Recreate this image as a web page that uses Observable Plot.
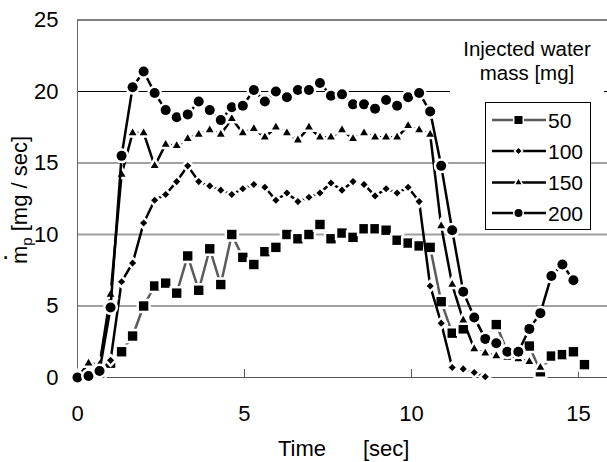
<!DOCTYPE html>
<html><head><meta charset="utf-8">
<script src="https://cdn.jsdelivr.net/npm/d3@7"></script>
<script src="https://cdn.jsdelivr.net/npm/@observablehq/plot@0.6"></script>
<style>body{margin:0;background:#fff} #chart{width:607px;height:462px}</style>
</head><body><div id="chart"></div>
<script>
// Time axis (sec), one sample every 0.33 s
const time = [0,0.33,0.66,0.99,1.32,1.65,1.98,2.31,2.64,2.97,3.3,3.63,3.96,4.29,4.62,4.95,5.28,5.61,5.94,6.27,6.6,6.93,7.26,7.59,7.92,8.25,8.58,8.91,9.24,9.57,9.9,10.23,10.56,10.89,11.22,11.55,11.88,12.21,12.54,12.87,13.2,13.53,13.86,14.19,14.52,14.85,15.18];
// Particle mass flow rate [mg/sec] per injected water mass
const mass50 = [0,0.1,0.3,1.0,1.8,2.9,5.0,6.4,6.6,5.9,8.5,6.1,9.0,6.5,10.0,8.4,7.9,8.8,9.1,10.0,9.7,10.0,10.7,9.7,10.1,9.8,10.4,10.4,10.3,9.6,9.4,9.2,9.1,5.3,3.1,3.4,4.2,2.7,3.7,1.8,1.8,2.2,0.4,1.5,1.6,1.8,0.9];
const mass100 = [0,0.1,0.3,1.2,6.7,8.0,10.8,12.4,12.8,13.7,14.8,13.7,13.4,13.1,12.8,13.2,13.5,13.3,12.4,12.9,12.3,12.6,12.9,13.6,13.1,13.7,13.5,12.7,13.2,12.9,13.3,12.3,6.4,3.8,0.7,0.6,0.35,0.05];
const mass150 = [0,1.0,0.9,5.8,14.2,17.1,17.1,14.8,16.3,16.2,16.7,17.0,17.3,17.0,18.1,17.1,17.4,16.8,17.5,17.1,16.6,17.5,16.8,16.8,17.3,16.7,17.1,16.8,16.8,16.8,17.6,17.3,17.0,10.6,6.5,4.0,2.0,1.7,1.5,1.4,1.3,1.1,0.7];
const mass200 = [0,0.1,0.45,4.9,15.5,20.3,21.4,19.9,18.7,18.2,18.4,19.3,18.7,18.0,18.9,19.0,20.1,19.3,20.0,19.6,20.1,20.1,20.6,19.7,19.8,19.1,19.1,18.8,19.4,19.0,19.6,19.9,18.6,14.8,10.3,6.0,4.2,2.7,2.4,1.8,1.8,3.4,4.5,7.1,7.9,6.8];

const seriesNames = ["50","100","150","200"];
const seriesValues = [mass50, mass100, mass150, mass200];
const seriesSymbols = ["square","diamond2","triangle","circle"];
const seriesR = [5.3, 3.2, 2.9, 5];
const seriesColors = ["#5a5a5a","#000","#000","#000"];
const yTicks = [0,5,10,15,20,25];
const xTicks = [0,5,10,15];
const gridGray = [5,10,15];
const gridBlack = [20,25];
const legendTitle = ["Injected water","mass [mg]"];

const rows = seriesValues.map((arr,k)=>arr.map((v,i)=>({t:time[i], v, s:seriesNames[k]})));

const marks = [
  Plot.ruleY(gridGray, {stroke:"#a0a0a0", strokeWidth:2}),
  Plot.ruleY(gridBlack, {stroke:"#000", strokeWidth:1}),
  Plot.ruleX([0], {stroke:"#666", strokeWidth:1}),
  Plot.ruleY([0], {stroke:"#555", strokeWidth:1}),
  Plot.ruleX(xTicks.slice(1), {y1:0, y2:0.56, stroke:"#555", strokeWidth:1}),
  Plot.axisY({ticks:yTicks, tickSize:0, tickPadding:19, label:null}),
  Plot.axisX({ticks:xTicks, tickSize:0, tickPadding:28, label:null})
];
rows.forEach((d,k)=>{
  marks.push(Plot.line(d, {x:"t", y:"v", stroke:seriesColors[k], strokeWidth:2.5}));
  marks.push(Plot.dot(d, {x:"t", y:"v", symbol:seriesSymbols[k], r:seriesR[k], fill:"#000", stroke:"#fff", strokeWidth:5, paintOrder:"stroke"}));
});

const svgNode = Plot.plot({
  width:607, height:462,
  marginLeft:77, marginRight:0, marginTop:19.5, marginBottom:85,
  x:{domain:[0,15.87]},
  y:{domain:[0,25]},
  style:{fontFamily:"'Liberation Sans', Arial, sans-serif", fontSize:"22px", background:"#fff", color:"#000"},
  marks
});
document.getElementById("chart").appendChild(svgNode);

const svg = d3.select(svgNode);
const ff = "'Liberation Sans', Arial, sans-serif";

// y label
const yl = svg.append("text").attr("transform","translate(27,200) rotate(-90)")
  .attr("text-anchor","middle").attr("font-size",22).attr("font-family",ff).attr("fill","#000");
yl.append("tspan").text("m");
yl.append("tspan").attr("dy",5).attr("font-size",15).text("p");
yl.append("tspan").attr("dy",-5).text(" [mg / sec]");
svg.append("text").attr("x",5.5).attr("y",259)
  .attr("text-anchor","middle").attr("font-size",26).attr("font-family",ff).text(".");

// x label
const xl = svg.append("text").attr("y",456).attr("font-size",22).attr("font-family",ff)
  .attr("fill","#000").attr("text-anchor","start");
xl.append("tspan").attr("x",278).text("Time");
xl.append("tspan").attr("x",363).text("[sec]");

// legend title
svg.append("rect").attr("x",450).attr("y",84).attr("width",154).attr("height",14).attr("fill","#fff");
legendTitle.forEach((s,i)=>svg.append("text").attr("x",527).attr("y",[56,80][i])
  .attr("text-anchor","middle").attr("font-size",20.5).attr("font-family",ff).text(s));

// legend box
svg.append("rect").attr("x",485.5).attr("y",102.5).attr("width",105).attr("height",127)
  .attr("fill","#fff").attr("stroke","#000").attr("stroke-width",1);
const legSym = [d3.symbolSquare, d3.symbolDiamond2, d3.symbolTriangle, d3.symbolCircle];
const legSize = [64, 23, 16, 50];
const legY = [120,151,182.5,213];
seriesNames.forEach((name,k)=>{
  const cy = legY[k];
  svg.append("line").attr("x1",492).attr("x2",546).attr("y1",cy).attr("y2",cy)
    .attr("stroke",seriesColors[k]).attr("stroke-width",2.5);
  svg.append("path").attr("d", d3.symbol(legSym[k], legSize[k])())
    .attr("transform",`translate(518.5,${cy})`).attr("fill","#000")
    .attr("stroke","#fff").attr("stroke-width",3).attr("paint-order","stroke");
  svg.append("text").attr("x",548).attr("y",cy+7.5).attr("font-size",21).attr("font-family",ff)
    .attr("text-anchor","start").text(name);
});
</script>
</body></html>
